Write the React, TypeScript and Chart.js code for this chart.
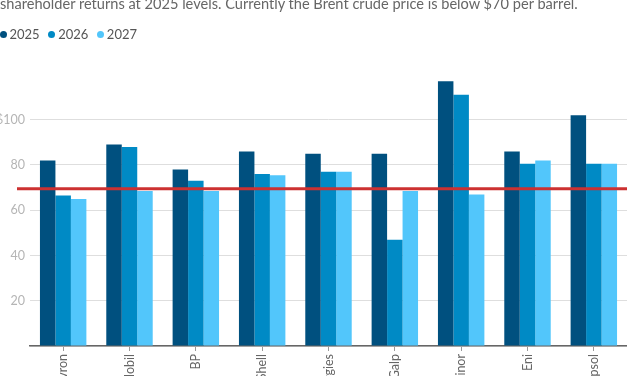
import React, { useEffect, useRef } from "react";
import { Chart, registerables } from "chart.js";

Chart.register(...registerables);

const SUBTITLE =
  "shareholder returns at 2025 levels. Currently the Brent crude price is below $70 per barrel.";
const categories = ["Chevron", "ExxonMobil", "BP", "Shell", "TotalEnergies", "Galp", "Equinor", "Eni", "Repsol"];
const seriesNames = ["2025", "2026", "2027"];
const values2025 = [82, 89, 78, 86, 85, 85, 117, 86, 102];
const values2026 = [66.5, 88, 73, 76, 77, 47, 111, 80.5, 80.5];
const values2027 = [65, 68.5, 68.5, 75.5, 77, 68.5, 67, 82, 80.5];
const brentPrice = 69.5;
const yTickValues = [20, 40, 60, 80, 100];

const COLORS = ["#00507f", "#008ac5", "#52c6fb"];
const FONT = "Lato, 'Open Sans', sans-serif";

const brentLine = {
  id: "brentLine",
  afterDatasetsDraw(chart: any) {
    const { ctx, chartArea, scales } = chart;
    const y = scales.y.getPixelForValue(brentPrice);
    ctx.save();
    ctx.strokeStyle = "#cc3131";
    ctx.lineWidth = 3;
    ctx.beginPath();
    ctx.moveTo(chartArea.left - 13, y);
    ctx.lineTo(chartArea.right, y);
    ctx.stroke();
    ctx.restore();
  },
};

export default function App() {
  const ref = useRef<HTMLCanvasElement>(null);

  useEffect(() => {
    document.body.style.margin = "0";
    const chart = new Chart(ref.current!, {
      type: "bar",
      data: {
        labels: categories,
        datasets: [values2025, values2026, values2027].map((d, i) => ({
          label: seriesNames[i],
          data: d,
          backgroundColor: COLORS[i],
          borderWidth: 0,
          barPercentage: 1,
          categoryPercentage: 0.7,
        })),
      },
      options: {
        responsive: false,
        animation: false,
        layout: { padding: { top: 79, left: 0, right: 0, bottom: 0 } },
        plugins: {
          legend: { display: false },
          tooltip: { enabled: false },
        },
        scales: {
          x: {
            border: { display: true, color: "#666", width: 1.5 },
            grid: {
              display: true,
              offset: false,
              drawOnChartArea: false,
              drawTicks: true,
              tickLength: 5,
              color: "#999",
            },
            ticks: {
              autoSkip: false,
              minRotation: 90,
              maxRotation: 90,
              padding: 3,
              color: "#666",
              font: { family: FONT, size: 12.5 },
            },
            afterFit: (s: any) => {
              s.height = 100;
            },
          },
          y: {
            min: 0,
            max: 118,
            border: { display: false },
            grid: { color: "#dedede", lineWidth: 1, drawTicks: false },
            ticks: {
              stepSize: 20,
              includeBounds: false,
              padding: 5,
              color: "#b5b5b5",
              font: { family: FONT, size: 12.5 },
              callback: (v: any) => (v === 100 ? "$100" : yTickValues.includes(v) ? String(v) : ""),
            },
            afterFit: (s: any) => {
              s.width = 30;
            },
          },
        },
      },
      plugins: [brentLine],
    });
    return () => chart.destroy();
  }, []);

  return (
    <div
      style={{
        position: "fixed",
        top: 0,
        left: 0,
        width: 627,
        height: 376,
        overflow: "hidden",
        background: "#fff",
        fontFamily: FONT,
      }}
    >
      <canvas ref={ref} width={627} height={446} style={{ position: "absolute", top: 0, left: 0, display: "block" }} />
      <div
        style={{
          position: "absolute",
          top: -3.5,
          left: 0,
          fontSize: 14.6,
          lineHeight: "14.6px",
          color: "#666",
          whiteSpace: "nowrap",
        }}
      >
        {SUBTITLE}
      </div>
      <div
        style={{
          position: "absolute",
          top: 27.5,
          left: -0.5,
          display: "flex",
          alignItems: "center",
          fontSize: 13,
          lineHeight: "13px",
          color: "#555",
        }}
      >
        {seriesNames.map((n, i) => (
          <span key={n} style={{ display: "flex", alignItems: "center", marginRight: i < 2 ? 8.5 : 0 }}>
            <span
              style={{
                width: 7,
                height: 7,
                borderRadius: "50%",
                background: COLORS[i],
                display: "inline-block",
                marginRight: 3,
              }}
            />
            <span>{n}</span>
          </span>
        ))}
      </div>
    </div>
  );
}
